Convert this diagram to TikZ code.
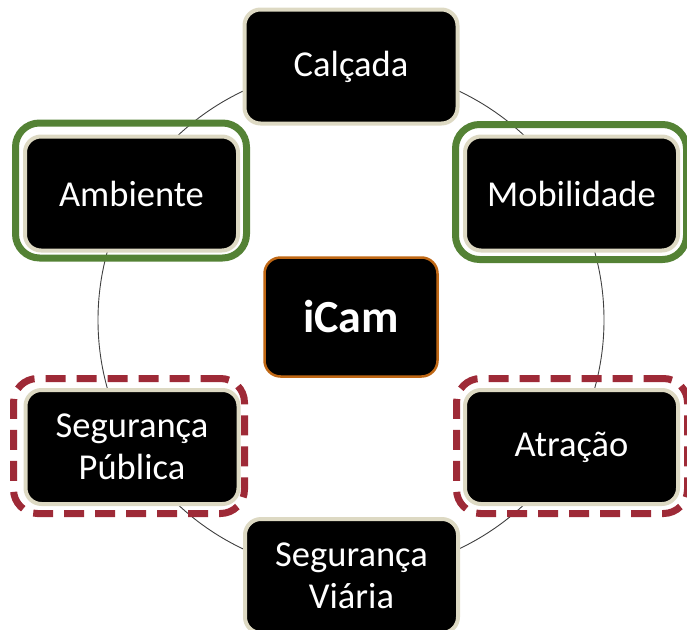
\documentclass[tikz,border=0pt]{standalone}
\usepackage{fontspec}
\setmainfont{Carlito}
\definecolor{boxedge}{RGB}{221,217,195}
\definecolor{framegreen}{RGB}{84,130,53}
\definecolor{framered}{RGB}{158,42,55}
\definecolor{coreedge}{RGB}{191,103,20}
\tikzset {
    ring/.style = {draw = black!75, line width = 0.9pt},
    topic/.style = {
        rectangle, rounded corners = 16pt, fill = black, draw = boxedge,
        line width = 4pt, text = white, align = center,
        minimum width = 213pt, minimum height = 114pt,
        font = \fontsize{36.5}{42}\selectfont
    },
    core/.style = {
        rectangle, rounded corners = 16pt, fill = black, draw = coreedge,
        line width = 2.5pt, text = white,
        minimum width = 173pt, minimum height = 119pt,
        font = \fontsize{46}{50}\selectfont\bfseries
    },
    frame/.style = {
        rectangle, rounded corners = 24pt, line width = 7pt,
        minimum width = 231pt, minimum height = 135pt
    },
    good frame/.style = {frame, draw = framegreen},
    risk frame/.style = {frame, draw = framered, dash pattern = on 20pt off 11pt}
}
\begin{document}
\begin{tikzpicture}[x = 1pt, y = -1pt]
    \useasboundingbox (0, 0) rectangle (687, 629);
    \coordinate (c) at (351, 320);
    \draw [ring] (c) circle (253pt);
    % frames
    \node (fa) [good frame] at (131, 190.5) {};
    \node (fm) [good frame] at (571, 192) {};
    \node (fp) [risk frame] at (129, 446) {};
    \node (ft) [risk frame] at (572, 446) {};
    % boxes
    \node (calcada) [topic] at (351, 66.5) {Calçada};
    \node (ambiente) [topic] at (131.5, 193.5) {Ambiente};
    \node (mobilidade) [topic] at (571.5, 193.5) {Mobilidade};
    \node (icam) [core] at (351, 317) {iCam};
    \node (publica) [topic] at (132, 447) {Segurança\\Pública};
    \node (atracao) [topic] at (571.5, 447) {Atração};
    \node (viaria) [topic] at (351.5, 576) {Segurança\\Viária};
\end{tikzpicture}
\end{document}
